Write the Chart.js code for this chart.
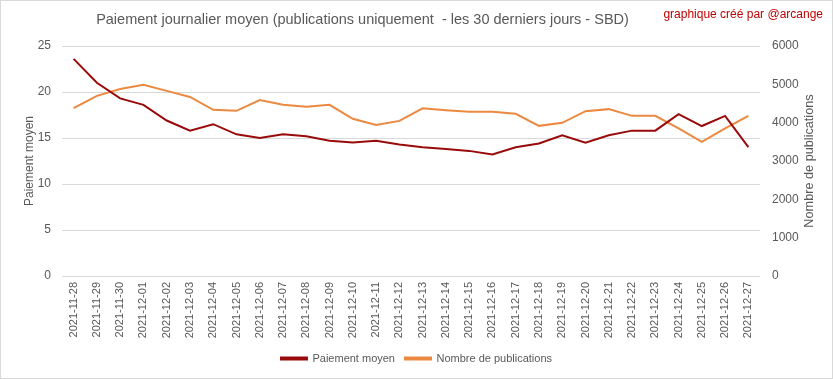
<!DOCTYPE html>
<html>
<head>
<meta charset="utf-8">
<script src="https://cdn.jsdelivr.net/npm/chart.js@4/dist/chart.umd.min.js"></script>
<style>
  html, body { margin: 0; padding: 0; background: #fff; }
  #wrap { width: 833px; height: 379px; position: relative; }
</style>
</head>
<body>
<div id="wrap"><canvas id="c" width="833" height="379"></canvas></div>
<script>
const categories = ["2021-11-28","2021-11-29","2021-11-30","2021-12-01","2021-12-02","2021-12-03","2021-12-04","2021-12-05","2021-12-06","2021-12-07","2021-12-08","2021-12-09","2021-12-10","2021-12-11","2021-12-12","2021-12-13","2021-12-14","2021-12-15","2021-12-16","2021-12-17","2021-12-18","2021-12-19","2021-12-20","2021-12-21","2021-12-22","2021-12-23","2021-12-24","2021-12-25","2021-12-26","2021-12-27"];
const paiementMoyen = [23.6,21.0,19.3,18.6,16.9,15.8,16.5,15.4,15.0,15.4,15.2,14.7,14.5,14.7,14.3,14.0,13.8,13.6,13.2,14.0,14.4,15.3,14.5,15.3,15.8,15.8,17.6,16.3,17.4,14.0];
const nombrePublications = [4380,4700,4880,4990,4830,4670,4335,4310,4590,4466,4413,4466,4100,3942,4047,4375,4327,4283,4283,4231,3917,3996,4300,4353,4178,4178,3848,3498,3848,4178];
const leftTicks = [0,5,10,15,20,25];
const rightTicks = [0,1000,2000,3000,4000,5000,6000];
const titleText = "Paiement journalier moyen (publications uniquement  - les 30 derniers jours - SBD)";
const creditText = "graphique créé par @arcange";
const leftAxisTitle = "Paiement moyen";
const rightAxisTitle = "Nombre de publications";

const FONT = "'Liberation Sans', Arial, sans-serif";
const GREY = "#595959";

const framePlugin = {
  id: 'frame',
  beforeDraw(chart) {
    const ctx = chart.ctx;
    ctx.save();
    ctx.fillStyle = '#ffffff';
    ctx.fillRect(0, 0, chart.width, chart.height);
    ctx.restore();
  },
  afterDraw(chart) {
    const ctx = chart.ctx;
    ctx.save();
    ctx.strokeStyle = '#d9d9d9';
    ctx.lineWidth = 1;
    ctx.strokeRect(0.5, 0.5, chart.width - 1, chart.height - 1);
    // chart title
    ctx.fillStyle = GREY;
    ctx.font = "14.5px " + FONT;
    ctx.textAlign = 'center';
    ctx.textBaseline = 'middle';
    ctx.fillText(titleText, 362.5, 20);
    // credit text
    ctx.fillStyle = '#c00000';
    ctx.font = "12px " + FONT;
    ctx.textAlign = 'right';
    ctx.textBaseline = 'middle';
    ctx.fillText(creditText, 823, 15);
    // right axis title (reads bottom-to-top)
    const a = chart.chartArea;
    ctx.fillStyle = GREY;
    ctx.font = "12.7px " + FONT;
    ctx.translate(809, (a.top + a.bottom) / 2);
    ctx.rotate(-Math.PI / 2);
    ctx.textAlign = 'center';
    ctx.textBaseline = 'middle';
    ctx.fillText(rightAxisTitle, 0, 0);
    ctx.restore();
  }
};

new Chart(document.getElementById('c'), {
  type: 'line',
  data: {
    labels: categories,
    datasets: [
      {
        label: 'Paiement moyen',
        data: paiementMoyen,
        borderColor: '#990a0a',
        backgroundColor: '#990a0a',
        borderWidth: 2,
        pointRadius: 0,
        tension: 0,
        yAxisID: 'y'
      },
      {
        label: 'Nombre de publications',
        data: nombrePublications,
        borderColor: '#eb8940',
        backgroundColor: '#eb8940',
        borderWidth: 2,
        pointRadius: 0,
        tension: 0,
        yAxisID: 'y1'
      }
    ]
  },
  options: {
    responsive: false,
    animation: false,
    devicePixelRatio: 1,
    layout: { padding: { left: 0, right: 0, top: 46, bottom: 5 } },
    plugins: {
      title: { display: false },
      legend: {
        display: true,
        position: 'bottom',
        labels: {
          color: GREY,
          font: { family: FONT, size: 11 },
          boxWidth: 26,
          boxHeight: 2,
          padding: 10
        }
      },
      tooltip: { enabled: false }
    },
    scales: {
      x: {
        offset: true,
        grid: { display: false, drawTicks: false },
        border: { display: false },
        ticks: {
          color: GREY,
          font: { family: FONT, size: 11 },
          minRotation: 90,
          maxRotation: 90,
          autoSkip: false,
          padding: 6
        },
        afterFit(s) { s.height = 67; }
      },
      y: {
        position: 'left',
        min: 0,
        max: 25,
        afterBuildTicks(s) { s.ticks = leftTicks.map(v => ({ value: v })); },
        grid: { color: '#d9d9d9', drawTicks: false },
        border: { display: false },
        ticks: { color: GREY, font: { family: FONT, size: 12 }, padding: 11 },
        title: {
          display: true,
          text: leftAxisTitle,
          color: GREY,
          font: { family: FONT, size: 12 },
          padding: { top: 22, bottom: 0 }
        },
        afterFit(s) { s.width = 62; }
      },
      y1: {
        position: 'right',
        min: 0,
        max: 6000,
        afterBuildTicks(s) { s.ticks = rightTicks.map(v => ({ value: v })); },
        grid: { drawOnChartArea: false, drawTicks: false },
        border: { display: false },
        ticks: {
          color: GREY,
          font: { family: FONT, size: 12 },
          padding: 12,
          callback: v => String(v)
        },
        afterFit(s) { s.width = 73; }
      }
    }
  },
  plugins: [framePlugin]
});
</script>
</body>
</html>
